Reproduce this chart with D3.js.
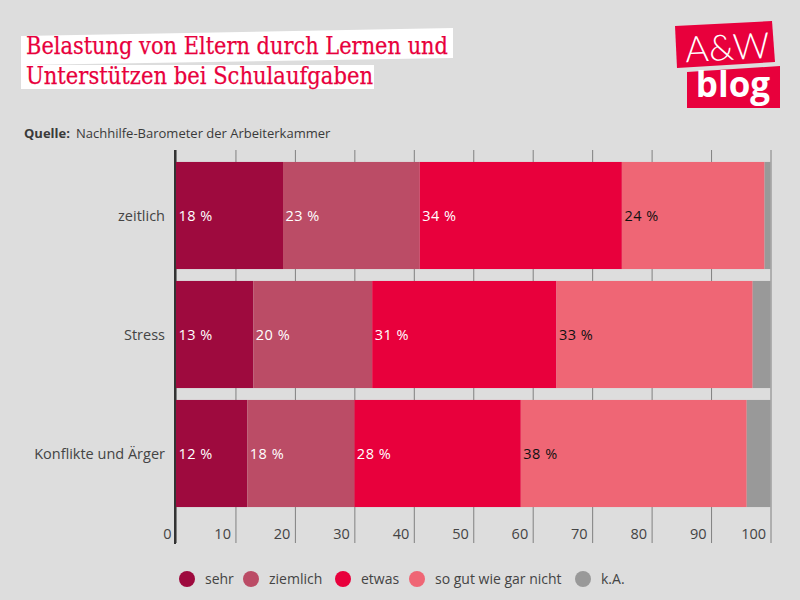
<!DOCTYPE html>
<html>
<head>
<meta charset="utf-8">
<script src="https://cdnjs.cloudflare.com/ajax/libs/d3/7.8.5/d3.min.js"></script>
<style>
html, body { margin: 0; padding: 0; background: #ddd; }
svg { display: block; }
text { font-family: "Open Sans", sans-serif; }
</style>
</head>
<body>
<div class="forshow"></div>
<script>
var categories = ["zeitlich", "Stress", "Konflikte und Ärger"]
var seriesNames = ["sehr", "ziemlich", "etwas", "so gut wie gar nicht", "k.A."]
var seriesColors = ["#9e0a3e", "#bb4c66", "#e8003c", "#ef6675", "#999999"]
var sehr = [18, 13, 12]
var ziemlich = [23, 20, 18]
var etwas = [34, 31, 28]
var garNicht = [24, 33, 38]
var keineAngabe = [1, 3, 4]
var xTicks = [0, 10, 20, 30, 40, 50, 60, 70, 80, 90, 100]
var titleLines = ["Belastung von Eltern durch Lernen und", "Unterstützen bei Schulaufgaben"]

var rows = categories.map(function(c, i) {
	return { cat: c, sehr: sehr[i], ziemlich: ziemlich[i], etwas: etwas[i], garNicht: garNicht[i], ka: keineAngabe[i] }
})
var keys = ["sehr", "ziemlich", "etwas", "garNicht", "ka"]
var stacked = d3.stack().keys(keys)(rows)

var svg = d3.select(".forshow").append("svg")
	.attr("width", 800)
	.attr("height", 600)

var x = d3.scaleLinear().domain([0, 100]).range([176, 770.5])
var y = d3.scaleBand().domain(categories).range([156, 513]).paddingInner(0.1).paddingOuter(0.05)

// title with the white slanted backing
svg.append("polygon").attr("points", "21,36 453,28 453,58 21,65").attr("fill", "#fff")
svg.append("polygon").attr("points", "21,65 374,65 374,89 21,89").attr("fill", "#fff")
svg.selectAll(".title").data(titleLines).enter().append("text")
	.attr("class", "title")
	.attr("x", 26)
	.attr("y", function(d, i) { return 54 + i * 30 })
	.attr("textLength", function(d, i) { return i == 0 ? 422 : 347 })
	.attr("lengthAdjust", "spacingAndGlyphs")
	.style("font-family", "'DejaVu Serif', serif")
	.style("font-size", "25px")
	.attr("fill", "#e8003c")
	.attr("stroke", "#e8003c")
	.attr("stroke-width", 0.25)
	.text(function(d) { return d })

// source line
var source = svg.append("text").attr("x", 24).attr("y", 138).attr("fill", "#3a3a3a").style("font-size", "13px")
source.append("tspan").style("font-weight", "bold").text("Quelle:")
source.append("tspan").attr("x", 76).text("Nachhilfe-Barometer der Arbeiterkammer")

// logo
var logo = svg.append("g")
logo.append("polygon").attr("points", "675,26 772,21 775,62 677,68").attr("fill", "#e8003c")
logo.append("polygon").attr("points", "687,72 780,66 780,108 687,108").attr("fill", "#e8003c")
logo.append("text").attr("x", 728).attr("y", 60).attr("text-anchor", "middle").attr("fill", "#fff")
	.style("font-family", "Lato, sans-serif").style("font-size", "36px").style("font-weight", "300")
	.attr("transform", "rotate(-3 728 60)").text("A&W")
logo.append("text").attr("x", 733).attr("y", 97).attr("text-anchor", "middle").attr("fill", "#fff")
	.style("font-family", "'Open Sans', sans-serif").style("font-size", "35px").style("font-weight", "bold").text("blog")

// x axis, ticks run behind the bars
var xAxis = svg.append("g")
	.attr("transform", "translate(0,543)")
	.call(d3.axisBottom(x).tickValues(xTicks).tickSize(-393).tickPadding(0).tickSizeOuter(0))
xAxis.select(".domain").remove()
xAxis.selectAll("line").attr("stroke", "#808080").attr("stroke-width", 1)
xAxis.selectAll("text")
	.attr("text-anchor", "end")
	.attr("dx", -5)
	.attr("y", -4)
	.attr("dy", 0)
	.attr("fill", "#444")
	.style("font-size", "14.5px")

var group = svg.selectAll(".serie")
	.data(stacked)
	.enter()
	.append("g")
	.attr("class", "serie")
	.attr("fill", function(d, i) { return seriesColors[i] })

group.selectAll("rect")
	.data(function(d) { return d })
	.enter()
	.append("rect")
	.attr("x", function(d) { return x(d[0]) })
	.attr("y", function(d) { return y(d.data.cat) })
	.attr("width", function(d) { return x(d[1]) - x(d[0]) })
	.attr("height", y.bandwidth())

// value labels, not for k.A.
group.filter(function(d, i) { return i < 4 }).selectAll(".val")
	.data(function(d, i) { return d.map(function(v) { return { v: v, s: i } }) })
	.enter()
	.append("text")
	.attr("class", "val")
	.attr("x", function(d) { return x(d.v[0]) + 2.5 })
	.attr("y", function(d) { return y(d.v.data.cat) + y.bandwidth() / 2 + 5 })
	.attr("fill", function(d) { return d.s == 3 ? "#111" : "#fff" })
	.style("font-size", "14.5px")
	.style("letter-spacing", "0.5px")
	.text(function(d) { return (d.v[1] - d.v[0]) + " %" })

// left axis
var yAxis = svg.append("g")
	.attr("transform", "translate(175,1)")
	.call(d3.axisLeft(y).tickSize(0).tickPadding(10))
yAxis.select(".domain").remove()
yAxis.selectAll("text").attr("fill", "#444").style("font-size", "14.5px")
svg.append("line")
	.attr("x1", 175).attr("x2", 175).attr("y1", 150).attr("y2", 544)
	.attr("stroke", "#333").attr("stroke-width", 2)

// legend
var legendX = [187, 251, 343, 417, 583]
var legend = svg.selectAll(".legend")
	.data(seriesNames)
	.enter()
	.append("g")
	.attr("class", "legend")
	.attr("transform", function(d, i) { return "translate(" + legendX[i] + ",579)" })
legend.append("circle").attr("r", 8).attr("fill", function(d, i) { return seriesColors[i] })
legend.append("text")
	.attr("x", 18)
	.attr("y", 5)
	.attr("fill", "#444")
	.style("font-size", "14px")
	.text(function(d) { return d })
</script>
</body>
</html>
